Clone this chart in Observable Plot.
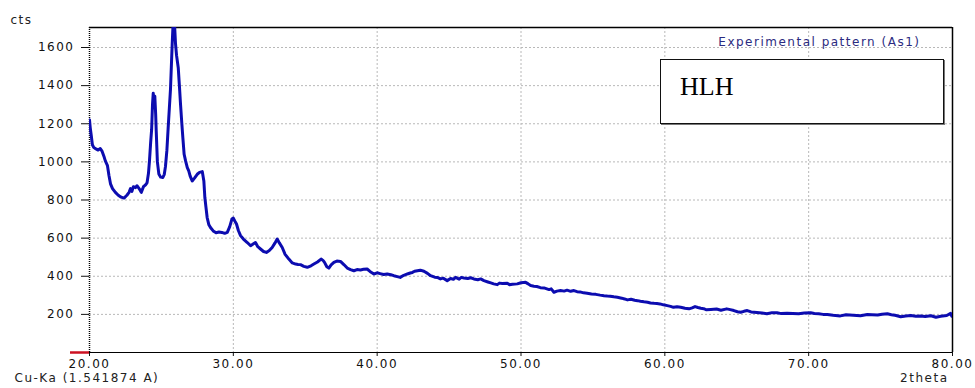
<!DOCTYPE html>
<html><head><meta charset="utf-8">
<script src="https://cdn.jsdelivr.net/npm/d3@7"></script>
<script src="https://cdn.jsdelivr.net/npm/@observablehq/plot@0.6"></script>
<style>
html,body{margin:0;padding:0;background:#fff;}
#wrap{position:relative;width:975px;height:388px;}
#wrap svg text{letter-spacing:1.5px;}
#hlh{position:absolute;left:660px;top:59px;width:282px;height:63px;border:1.5px solid #111;background:#fff;box-shadow:1px 1px 0 #777;}
#hlh span{position:absolute;left:19px;top:12px;font-family:"Liberation Serif",serif;font-size:26px;color:#000;}
</style></head><body><div id="wrap"><div id="hlh"><span>HLH</span></div></div>
<script>
const twoTheta = [20.00,20.05,20.12,20.2,20.3,20.45,20.6,20.75,20.88,21.0,21.1,21.25,21.35,21.46,21.6,21.8,22.0,22.2,22.4,22.6,22.75,22.85,22.95,23.05,23.2,23.3,23.45,23.6,23.75,23.9,24.0,24.1,24.17,24.25,24.32,24.38,24.43,24.48,24.54,24.6,24.64,24.72,24.82,24.95,25.1,25.2,25.28,25.38,25.47,25.55,25.63,25.7,25.75,25.82,25.9,25.98,26.05,26.17,26.25,26.33,26.42,26.49,26.58,26.68,26.8,26.9,27.0,27.14,27.3,27.49,27.65,27.84,27.95,28.02,28.1,28.18,28.3,28.41,28.6,28.8,29.0,29.2,29.4,29.58,29.75,29.9,30.0,30.1,30.22,30.35,30.5,30.7,30.97,31.2,31.4,31.54,31.7,31.89,32.1,32.3,32.5,32.7,32.9,33.05,33.2,33.4,33.6,33.86,34.1,34.33,34.5,34.67,34.9,35.14,35.4,35.6,35.85,36.1,36.25,36.34,36.5,36.64,36.8,36.99,37.2,37.45,37.7,37.92,38.15,38.38,38.6,38.84,39.05,39.3,39.5,39.77,40.0,40.2,40.45,40.7,40.95,41.16,41.4,41.6,41.85,42.1,42.3,42.45,42.6,42.8,43.0,43.25,43.5,43.71,44.0,44.18,44.4,44.6,44.87,45.1,45.3,45.45,45.7,45.85,46.03,46.3,46.5,46.72,47.0,47.2,47.42,47.7,47.9,48.1,48.35,48.5,48.7,49.05,49.2,49.4,49.74,50.0,50.32,50.5,50.67,50.9,51.1,51.35,51.6,51.95,52.1,52.29,52.5,52.75,53.0,53.2,53.45,53.68,53.9,54.1,54.35,54.6,54.9,55.2,55.5,55.77,56.0,56.2,56.45,56.7,57.0,57.2,57.4,57.65,57.9,58.1,58.3,58.55,58.8,59.0,59.25,59.45,59.66,59.9,60.17,60.4,60.6,60.85,61.1,61.4,61.68,61.9,62.1,62.3,62.5,62.7,62.9,63.2,63.6,63.9,64.3,64.55,64.8,65.05,65.27,65.5,65.73,66.0,66.4,66.75,67.1,67.45,67.8,68.1,68.5,68.9,69.3,69.7,70.14,70.4,70.7,71.0,71.3,71.7,72.2,72.6,73.1,73.6,74.08,74.4,74.8,75.1,75.47,75.75,76.0,76.4,76.75,77.1,77.45,77.8,78.1,78.5,78.85,79.18,79.6,79.87,79.95,80.0];
const counts = [1220,1180,1140,1090,1075,1068,1062,1070,1055,1030,1005,980,930,885,860,840,825,815,810,825,840,860,845,870,865,875,860,840,870,880,890,940,1005,1100,1170,1300,1360,1330,1345,1250,1160,1000,937,920,918,935,975,1060,1180,1280,1380,1520,1620,1740,1740,1620,1560,1494,1400,1300,1200,1127,1040,1005,970,953,925,900,915,935,945,949,900,813,760,708,670,656,638,628,632,630,625,630,660,700,705,690,674,640,613,595,577,560,570,577,555,543,530,525,535,551,575,595,575,551,515,490,470,464,462,461,452,447,455,464,475,490,482,473,450,443,460,473,480,478,460,443,435,429,435,433,437,438,425,412,418,414,409,412,408,403,398,394,405,412,417,420,426,429,432,426,415,403,395,394,386,390,377,388,384,394,385,394,391,388,392,386,382,386,377,370,365,360,356,364,362,363,356,358,360,366,368,360,351,348,346,340,339,330,334,316,322,325,322,327,321,325,319,318,313,311,307,305,301,298,296,295,292,290,285,281,276,279,274,272,269,266,264,260,258,257,255,250,246,242,237,240,237,232,229,234,241,236,232,230,224,226,228,222,229,225,220,214,211,216,220,213,210,207,203,209,208,204,206,205,203,207,208,205,203,200,199,195,192,198,196,193,199,198,197,201,203,198,195,188,192,194,190,192,189,193,185,190,194,205,190];
const yTicks = [200,400,600,800,1000,1200,1400,1600];
const xTicks = [20,30,40,50,60,70,80];
const yLabel = "cts";
const xLabel = "2theta";
const sourceLabel = "Cu-Ka (1.541874 A)";
const seriesLabel = "Experimental pattern (As1)";

const data = twoTheta.map((x, i) => ({x, y: counts[i]}));
const yMax = 1705;

const chart = Plot.plot({
  width: 975, height: 388,
  marginTop: 27, marginBottom: 36, marginLeft: 89, marginRight: 23,
  style: {fontFamily: "DejaVu Sans", fontSize: "12px", background: "#fff", color: "#111", overflow: "visible"},
  x: {domain: [20, 80]},
  y: {domain: [0, yMax]},
  marks: [
    Plot.gridY(yTicks, {stroke: "#b8b8b8", strokeOpacity: 1, strokeDasharray: "2,2"}),
    Plot.gridX(xTicks.slice(1, -1), {stroke: "#b8b8b8", strokeOpacity: 1, strokeDasharray: "2,2"}),
    Plot.axisY(yTicks, {tickSize: 8, tickPadding: 7, tickFormat: d => String(d), label: null}),
    Plot.axisX(xTicks, {tickSize: 4, tickPadding: 3, tickFormat: d => d.toFixed(2), label: null}),
    Plot.ruleY([yMax], {stroke: "#000", strokeWidth: 1.5}),
    Plot.ruleX([80], {stroke: "#000", strokeWidth: 1.5}),
    Plot.ruleY([0], {stroke: "#000", strokeWidth: 1.2}),
    Plot.ruleX([20], {stroke: "#000", strokeWidth: 1.5, strokeDasharray: "1,1"}),
    Plot.ruleY([0], {x1: 18.68, x2: 20, stroke: "#cc1122", strokeWidth: 2.5, clip: false}),
    Plot.line(data, {x: "x", y: "y", stroke: "#0c0cb0", strokeWidth: 3, clip: true}),
    Plot.text([yLabel], {text: d => d, frameAnchor: "top-left", dx: -79, dy: -12, textAnchor: "start", fill: "#222"}),
    Plot.text([seriesLabel], {text: d => d, frameAnchor: "top-right", dx: -32, dy: 10, textAnchor: "end", fill: "#2b2b80"}),
    Plot.text([sourceLabel], {text: d => d, frameAnchor: "bottom-left", dx: -75, dy: 29, textAnchor: "start", fill: "#222"}),
    Plot.text([xLabel], {text: d => d, frameAnchor: "bottom-right", dx: -4, dy: 29, textAnchor: "end", fill: "#222"})
  ]
});
document.getElementById("wrap").prepend(chart);
</script>
</body></html>
